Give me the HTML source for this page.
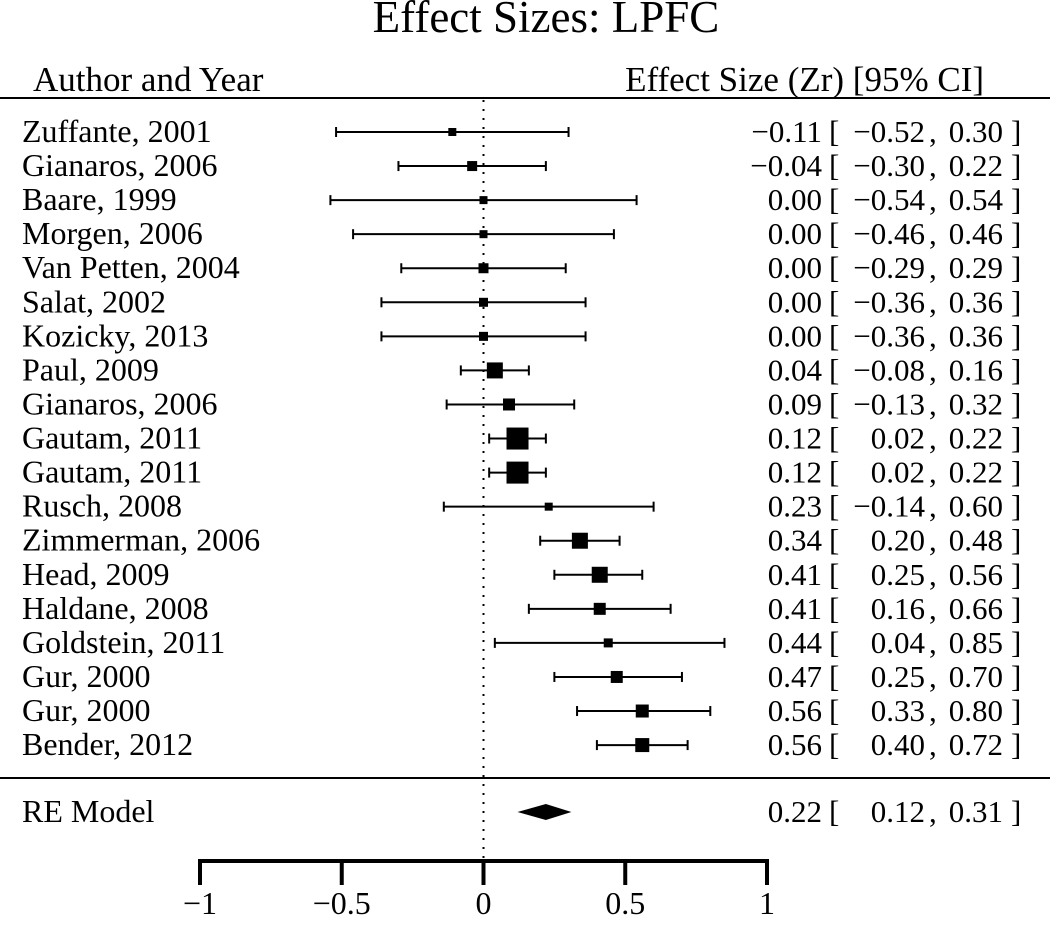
<!DOCTYPE html>
<html><head><meta charset="utf-8"><style>
body{margin:0;background:#fff;}
svg text{font-family:"Liberation Serif",serif;fill:#000;}
</style></head><body>
<svg id="chart" width="1050" height="920" xmlns="http://www.w3.org/2000/svg">
<text x="546" y="32" font-size="45" text-anchor="middle">Effect Sizes: LPFC</text>
<text x="33" y="91" font-size="35">Author and Year</text>
<text x="984" y="91" font-size="35" text-anchor="end">Effect Size (Zr) [95% CI]</text>
<line x1="0" x2="1050" y1="98" y2="98" stroke="#000" stroke-width="2"/>
<line x1="0" x2="1050" y1="778" y2="778" stroke="#000" stroke-width="2"/>
<g id="rows"></g>
<g id="axis"></g>
</svg>
<script>
const authors=["Zuffante, 2001","Gianaros, 2006","Baare, 1999","Morgen, 2006","Van Petten, 2004","Salat, 2002","Kozicky, 2013","Paul, 2009","Gianaros, 2006","Gautam, 2011","Gautam, 2011","Rusch, 2008","Zimmerman, 2006","Head, 2009","Haldane, 2008","Goldstein, 2011","Gur, 2000","Gur, 2000","Bender, 2012"];
const estimates=[-0.11,-0.04,0.00,0.00,0.00,0.00,0.00,0.04,0.09,0.12,0.12,0.23,0.34,0.41,0.41,0.44,0.47,0.56,0.56];
const lowers=[-0.52,-0.30,-0.54,-0.46,-0.29,-0.36,-0.36,-0.08,-0.13,0.02,0.02,-0.14,0.20,0.25,0.16,0.04,0.25,0.33,0.40];
const uppers=[0.30,0.22,0.54,0.46,0.29,0.36,0.36,0.16,0.32,0.22,0.22,0.60,0.48,0.56,0.66,0.85,0.70,0.80,0.72];
const weights=[4,5,4,4,5,4.5,4.5,8,6,11,11,4,8,8,6,4.5,6,6.5,7];
const model=[0.22,0.12,0.31];
const ticks=[-1,-0.5,0,0.5,1];
const tickLabels=["−1","−0.5","0","0.5","1"];
const NS="http://www.w3.org/2000/svg";
const xs=v=>483.5+v*283.5;
const ys=i=>132+i*34.06;
const fmt=v=>(v<0?"−":"")+Math.abs(v).toFixed(2);
function mk(tag,attrs,parent,text){const e=document.createElementNS(NS,tag);for(const k in attrs)e.setAttribute(k,attrs[k]);if(text!==undefined)e.textContent=text;parent.appendChild(e);return e;}
function txt(x,y,size,anchor,parent,text){return mk('text',{x:x,y:y,'font-size':size,'text-anchor':anchor},parent,text);}
const rows=document.getElementById('rows');
const ax=document.getElementById('axis');
const zl=mk('line',{x1:xs(0),x2:xs(0),y1:100,y2:860,stroke:'#000','stroke-width':2,'stroke-dasharray':'2,7'},rows);


function ciText(y,est,lo,hi,name){
  const g=mk('g',{},rows);
  
  
  const by=y+10;
  txt(822,by,31,'end',g,fmt(est));
  txt(829,by,31,'start',g,'[');
  txt(925,by,31,'end',g,fmt(lo));
  txt(929,by,31,'start',g,',');
  txt(1003,by,31,'end',g,fmt(hi));
  txt(1011,by,31,'start',g,']');
}
authors.forEach((a,i)=>{
  const y=ys(i);
  const t=txt(22,y+10,32,'start',rows,a);
  
  
  const g=mk('g',{},rows);
  
  
  mk('line',{x1:xs(lowers[i]),x2:xs(uppers[i]),y1:y,y2:y,stroke:'#000','stroke-width':2},g);
  mk('line',{x1:xs(lowers[i]),x2:xs(lowers[i]),y1:y-5,y2:y+5,stroke:'#000','stroke-width':2},g);
  mk('line',{x1:xs(uppers[i]),x2:xs(uppers[i]),y1:y-5,y2:y+5,stroke:'#000','stroke-width':2},g);
  const w=weights[i];
  const r=mk('rect',{x:xs(estimates[i])-w,y:y-w,width:2*w,height:2*w,fill:'#000'},g);
  
  
  ciText(y,estimates[i],lowers[i],uppers[i],'study-ci-text');
});
const my=812;
const ml=txt(22,my+10,32,'start',rows,'RE Model');


const d=mk('polygon',{points:`${xs(model[1])},${my} ${xs(model[0])},${my-8} ${xs(model[2])},${my} ${xs(model[0])},${my+8}`,fill:'#000'},rows);


ciText(my,model[0],model[1],model[2],'re-model-ci-text');
const al=mk('line',{x1:xs(ticks[0])-2,x2:xs(ticks[ticks.length-1])+2,y1:861,y2:861,stroke:'#000','stroke-width':4},ax);


ticks.forEach((v,i)=>{
  const tk=mk('line',{x1:xs(v),x2:xs(v),y1:859,y2:885,stroke:'#000','stroke-width':4},ax);
  
  
  const tl=txt(xs(v),914,32,'middle',ax,tickLabels[i]);
  
  
});
</script>
</body></html>
